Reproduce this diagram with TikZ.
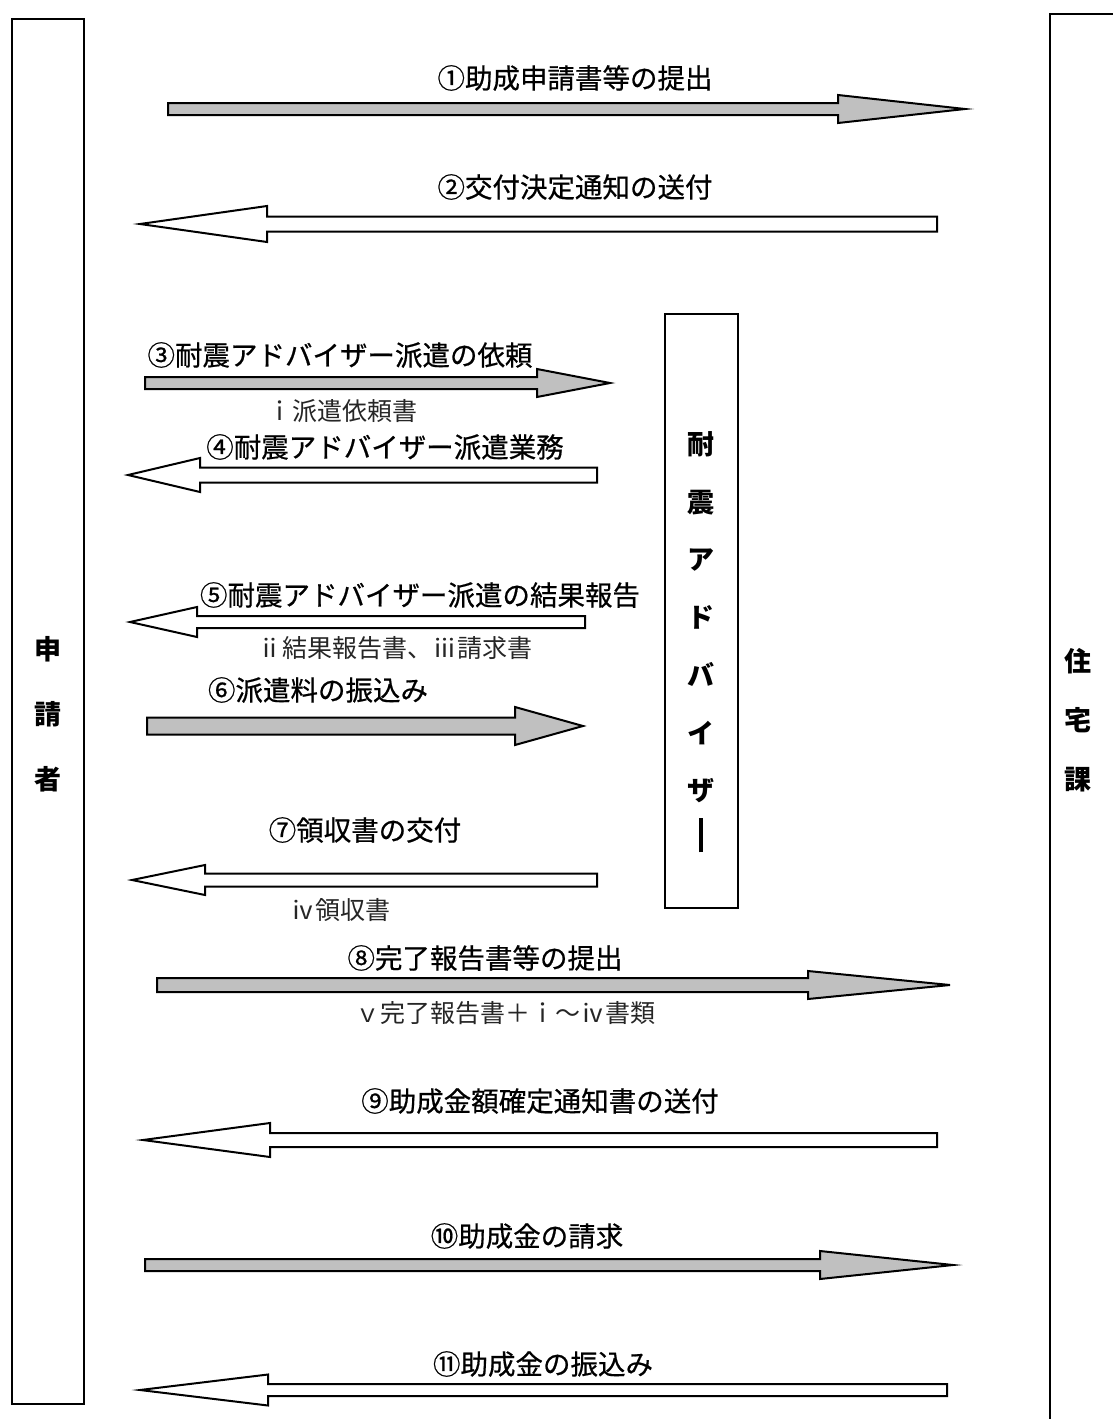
\documentclass[tikz,border=0pt]{standalone}
\usepackage{fontspec}
\newfontfamily\jp{Noto Sans CJK JP}
\newfontfamily\jpm{Noto Sans CJK JP}[FakeBold=0.6]
\definecolor{grayfill}{HTML}{C0C0C0}
\tikzset{
  arr/.style={draw=black, line width=2pt, line join=miter},
  box/.style={draw=black, line width=2pt, fill=none},
  lbl/.style={font=\jpm\fontsize{27.5}{32}\selectfont, inner sep=0pt, anchor=center},
  sub/.style={font=\jp\fontsize{25}{30}\selectfont, inner sep=0pt, anchor=center, text=black!85},
  vlbl/.style={font=\jp\bfseries\fontsize{27}{30}\selectfont, inner sep=0pt, align=center, anchor=center}
}
% right arrow: #1 left end, #2 head base, #3 tip, #4 y, #5 shaft half height, #6 head half height
\newcommand\rarr[6]{%
  \draw[arr, fill=grayfill] ({#1},{#4-#5}) -- ({#2},{#4-#5}) -- ({#2},{#4-#6}) -- ({#3},{#4})
    -- ({#2},{#4+#6}) -- ({#2},{#4+#5}) -- ({#1},{#4+#5}) -- cycle;}
% left arrow: #1 tip, #2 head base, #3 right end, #4 y, #5 shaft half, #6 head half
\newcommand\larr[6]{%
  \draw[arr, fill=white] ({#1},{#4}) -- ({#2},{#4-#6}) -- ({#2},{#4-#5}) -- ({#3},{#4-#5})
    -- ({#3},{#4+#5}) -- ({#2},{#4+#5}) -- ({#2},{#4+#6}) -- cycle;}
\begin{document}
\begin{tikzpicture}[x=1pt,y=-1pt]
\useasboundingbox[fill=white] (0,0) rectangle (1112,1419);
% boxes
\node[box, minimum width=72pt, minimum height=1385pt, inner sep=0pt] (applicant) at (48,711.5) {};
\draw[box] (1050,1430) -- (1050,14) -- (1130,14);
\coordinate (housing) at (1078,718);
\node[box, minimum width=73pt, minimum height=594pt, inner sep=0pt] (adviser) at (701.5,611) {};
% box labels
\node[vlbl, font=\jp\bfseries\fontsize{27}{65}\selectfont] (tApp) at (48,714) {申\\請\\者};
\node[vlbl, font=\jp\bfseries\fontsize{27}{59}\selectfont] (tHouse) at (1078,720) {住\\宅\\課};
\node[vlbl, font=\jp\bfseries\fontsize{27}{57.7}\selectfont] (tAdv) at (701,642) {耐\\震\\ア\\ド\\バ\\イ\\ザ\\[-6pt]\rule{4pt}{34pt}};
% arrows
\rarr{168}{838}{965}{109}{6}{14}
\larr{140}{267}{937}{224}{7.5}{18}
\rarr{145}{537}{610}{383}{6}{14}
\larr{128}{200}{597}{475}{7.5}{17}
\larr{130}{197}{585}{622}{6}{15}
\rarr{147}{515}{583}{726}{8.5}{19}
\larr{132}{205}{597}{880}{6.5}{15}
\rarr{157}{808}{950}{985}{7}{14}
\larr{143}{270}{937}{1140}{7}{17}
\rarr{145}{820}{953}{1265}{6}{14}
\larr{140}{268}{947}{1390}{6}{15.5}
% labels
\node[lbl] (l1) at (575,78) {①助成申請書等の提出};
\node[lbl] (l2) at (575,187) {②交付決定通知の送付};
\node[lbl] (l3) at (340,355) {③耐震アドバイザー派遣の依頼};
\node[sub] (s3) at (342,411) {ｉ派遣依頼書};
\node[lbl] (l4) at (385,447) {④耐震アドバイザー派遣業務};
\node[lbl] (l5) at (420,595) {⑤耐震アドバイザー派遣の結果報告};
\node[sub] (s5) at (395,648) {ⅱ結果報告書、ⅲ請求書};
\node[lbl] (l6) at (318,690) {⑥派遣料の振込み};
\node[lbl] (l7) at (365,830) {⑦領収書の交付};
\node[sub] (s7) at (340,910) {ⅳ領収書};
\node[lbl] (l8) at (485,958) {⑧完了報告書等の提出};
\node[sub] (s8) at (505,1013) {ｖ完了報告書＋ｉ～ⅳ書類};
\node[lbl] (l9) at (540,1101) {⑨助成金額確定通知書の送付};
\node[lbl] (l10) at (527,1236) {⑩助成金の請求};
\node[lbl] (l11) at (543,1364) {⑪助成金の振込み};
\end{tikzpicture}
\end{document}
